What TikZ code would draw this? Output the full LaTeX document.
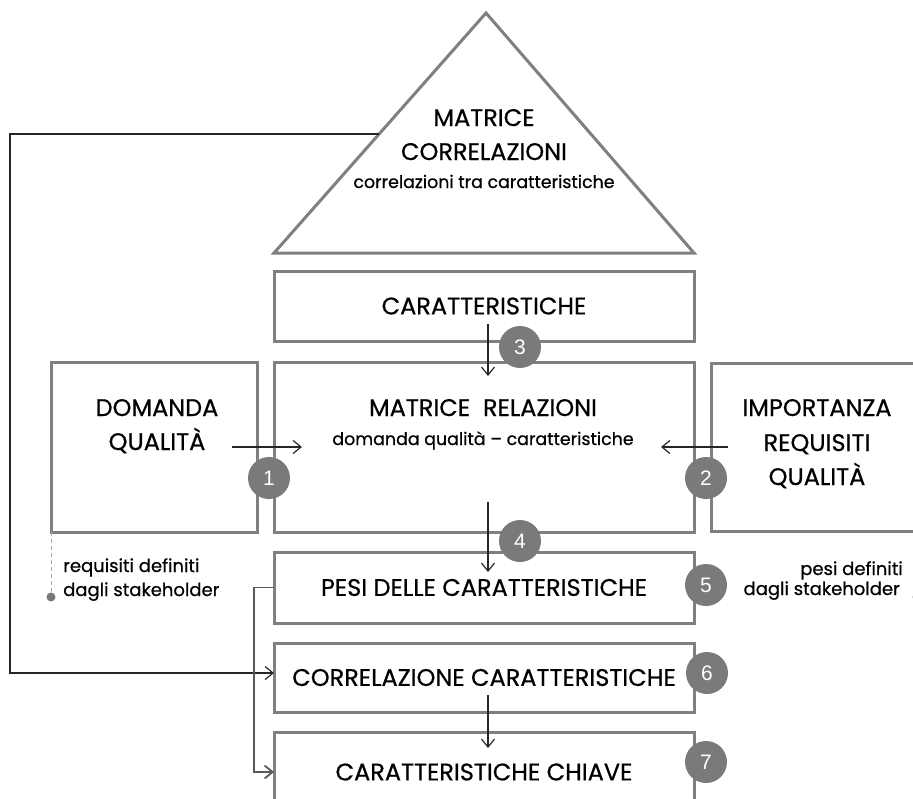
\documentclass[tikz,border=0pt]{standalone}
\usepackage{fontspec}
\setmainfont{Poppins}[FakeBold=0.6]
\newfontfamily\numfamily{Liberation Sans}
\usetikzlibrary{arrows.meta}

\definecolor{boxgray}{HTML}{808080}
\definecolor{dotgray}{HTML}{7A7A7A}
\definecolor{dashgray}{HTML}{A8A8A8}

\newcommand\capfont{\fontsize{24}{24}\selectfont}
\newcommand\notefont{\fontsize{18}{18}\selectfont}
\newcommand\subfont{\fontsize{17.4}{17.4}\selectfont}
\newcommand\numfont{\numfamily\fontsize{21}{21}\selectfont}

\begin{document}
\begin{tikzpicture}[x=1pt,y=-1pt,
    conn/.style={draw=black!85, line width=1.2pt, -{Straight Barb[length=8pt,width=13pt]}}]

      \clip (0,0) rectangle (913,798);
      \fill[white] (0,0) rectangle (913,798);

      % triangle on top
      \coordinate (apex)   at (486,13);
      \coordinate (base-l) at (274,253);
      \coordinate (base-r) at (694,253);
      \coordinate (trileft) at (379,134);
      \draw[boxgray, line width=3pt] (apex) -- (base-l) -- (base-r) -- cycle;

      \begin{scope}[every node/.style={draw=boxgray, line width=3pt, inner sep=0pt, outer sep=0pt, font=\capfont}]
        \node[minimum width=420, minimum height=70]  (car)    at (484,306)   {CARATTERISTICHE};
        \node[minimum width=206, minimum height=170] (dom)    at (154,447)   {};
        \node[minimum width=420, minimum height=170] (rel)    at (484,447)   {};
        \node[minimum width=260, minimum height=168] (imp)    at (841,447)   {};
        \node[minimum width=420, minimum height=71]  (pesi)   at (484,587.5) {PESI DELLE CARATTERISTICHE};
        \node[minimum width=420, minimum height=69]  (corr)   at (484,677.5) {CORRELAZIONE CARATTERISTICHE};
        \node[minimum width=420, minimum height=80]  (chiave) at (484,772)   {CARATTERISTICHE CHIAVE};
      \end{scope}

      \begin{scope}[every node/.style={anchor=base, inner sep=0pt, font=\capfont}]
        \node (tri1) at (484,126) {MATRICE};
        \node (tri2) at (484,160) {CORRELAZIONI};
        \node[font=\subfont] (tri3) at (484,188) {correlazioni tra caratteristiche};
        \node (dom1) at (157,416) {DOMANDA};
        \node (dom2) at (157,450) {QUALITÀ};
        \node (rel1) at (483,416) {MATRICE\ \ RELAZIONI};
        \node[font=\subfont] (rel2) at (483,445) {domanda qualità – caratteristiche};
        \node (imp1) at (817,416) {IMPORTANZA};
        \node (imp2) at (817,451) {REQUISITI};
        \node (imp3) at (817,485) {QUALITÀ};
      \end{scope}

      \begin{scope}[every node/.style={inner sep=0pt, font=\notefont}]
        \node[anchor=base west] (req1) at (63,572)  {requisiti definiti};
        \node[anchor=base west] (req2) at (63,596)  {dagli stakeholder};
        \node[anchor=base east] (pes1) at (903,575) {pesi definiti};
        \node[anchor=base east] (pes2) at (900,595) {dagli stakeholder};
      \end{scope}

      % stakeholder marks
      \coordinate (reqdot) at (51,597);
      \coordinate (pesdot) at (917,597);
      \draw[dashgray, line width=1pt, dash pattern=on 4pt off 3pt] (dom.south west) -- (reqdot);
      \fill[dotgray] (reqdot) circle (4.5);
      \fill[dotgray] (pesdot) circle (4.5);

      \begin{scope}[every edge/.style={conn}]
        \path ([xshift=-25]dom.east)  edge ([xshift=28]rel.west);
        \path ([xshift=17]imp.west)   edge ([xshift=-33]rel.east);
        \path ([xshift=4,yshift=17]car.south) edge ([xshift=4,yshift=-14]rel.north);
        \path ([xshift=4,yshift=30]rel.south) edge ([xshift=4,yshift=-20]pesi.north);
        \path ([xshift=4,yshift=17]corr.south) edge ([xshift=4,yshift=-16]chiave.north);
      \end{scope}

      \draw[conn] (trileft) -- (10,134) |- ([yshift=4.5]corr.west);
      \draw[conn, draw=black!65, line width=1.8pt] (pesi.west) -- ++(-20,0) |- (chiave.west);

      \begin{scope}[every node/.style={circle, fill=dotgray, minimum size=42, inner sep=0pt, text=white, font=\numfont}]
        \node (n1) at (269,478) {1};
        \node (n2) at (706,478) {2};
        \node (n3) at (520,347) {3};
        \node (n4) at (520,541) {4};
        \node (n5) at (706,585) {5};
        \node (n6) at (707,673) {6};
        \node (n7) at (706,762) {7};
      \end{scope}

    \end{tikzpicture}
\end{document}
